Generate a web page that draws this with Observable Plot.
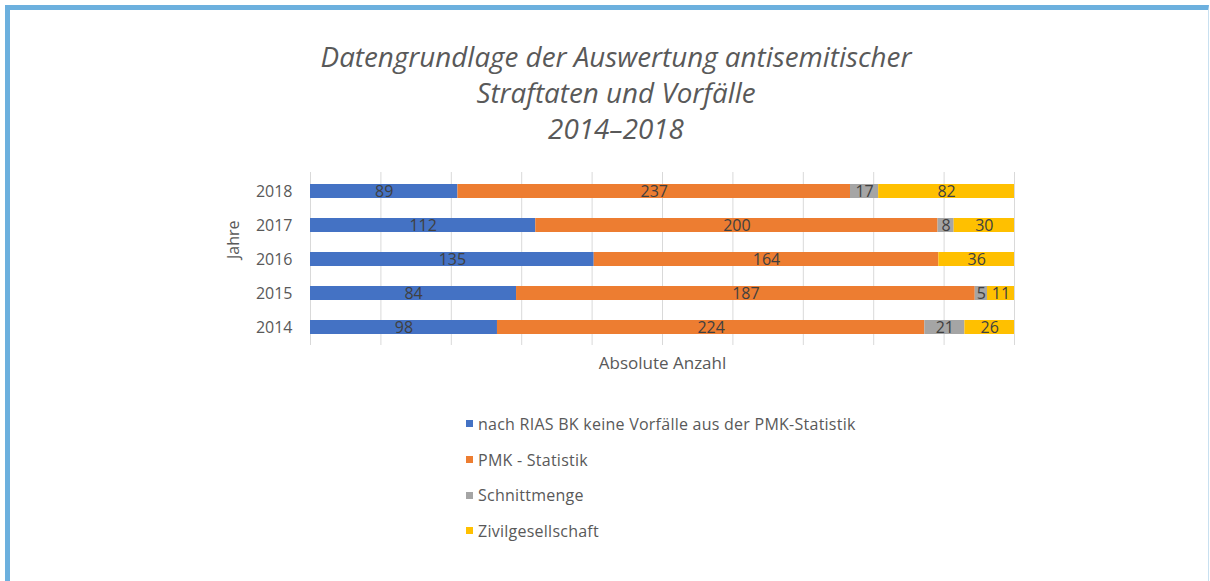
<!DOCTYPE html>
<html>
<head>
<meta charset="utf-8">
<script src="https://cdn.jsdelivr.net/npm/d3@7"></script>
<script src="https://cdn.jsdelivr.net/npm/@observablehq/plot@0.6"></script>
<style>
  html, body { margin: 0; padding: 0; background: #fff; width: 1210px; height: 581px; overflow: hidden; }
  #frame { position: absolute; left: 5px; top: 5px; width: 1204px; height: 640px; box-sizing: border-box;
           border-left: 5px solid #6cb0de; border-top: 5px solid #6cb0de; border-right: 1px solid #c8e0f0; }
  #chart { position: absolute; left: 0; top: 0; }
  #title { position: absolute; left: 0; top: 38px; width: 1232px; text-align: center;
           font-family: "Open Sans", sans-serif; font-style: italic; font-size: 27.8px; line-height: 36px; color: #595959; }
  #legend { position: absolute; left: 466px; top: 406px; font-family: "Open Sans", sans-serif; font-size: 16px; letter-spacing: 0.25px; color: #595959; }
  .row { height: 35.7px; display: flex; align-items: center; }
  .sw { width: 7px; height: 7px; margin-right: 5px; flex: none; }
</style>
</head>
<body>
<div id="frame"></div>
<div id="chart"></div>
<div id="title"></div>
<div id="legend"></div>
<script>
const titleLines = ["Datengrundlage der Auswertung antisemitischer", "Straftaten und Vorfälle", "2014–2018"];
const years = ["2018", "2017", "2016", "2015", "2014"];
const series = ["nach RIAS BK keine Vorfälle aus der PMK-Statistik", "PMK - Statistik", "Schnittmenge", "Zivilgesellschaft"];
const colors = ["#4472c4", "#ed7d31", "#a5a5a5", "#ffc000"];
const riasOnly = [89, 112, 135, 84, 98];
const pmk = [237, 200, 164, 187, 224];
const schnitt = [17, 8, 0, 5, 21];
const zivil = [82, 30, 36, 11, 26];
const xLabel = "Absolute Anzahl";
const yLabel = "Jahre";

const valuesBySeries = [riasOnly, pmk, schnitt, zivil];
const rows = [];
series.forEach((s, si) => years.forEach((y, yi) => rows.push({year: y, series: s, value: valuesBySeries[si][yi]})));

document.getElementById("title").innerHTML = titleLines.map(t => `<div>${t}</div>`).join("");
document.getElementById("legend").innerHTML = series.map((s, i) =>
  `<div class="row"><span class="sw" style="background:${colors[i]}"></span><span>${s}</span></div>`).join("");

const stackOpts = {x: "value", y: "year", z: "series", offset: "normalize", order: series};

const chart = Plot.plot({
  width: 1210,
  height: 400,
  marginLeft: 310,
  marginRight: 196,
  marginTop: 172,
  marginBottom: 55,
  style: {fontFamily: "Open Sans, sans-serif", fontSize: "16px", color: "#595959", background: "transparent", overflow: "visible"},
  x: {domain: [0, 1], axis: null},
  y: {domain: years, paddingInner: 0.6, paddingOuter: 0.3, axis: null},
  color: {domain: series, range: colors},
  marks: [
    Plot.gridX({ticks: 10, stroke: "#d9d9d9", strokeOpacity: 1, strokeWidth: 1}),
    Plot.barX(rows, Plot.stackX({...stackOpts, fill: "series"})),
    Plot.text(rows, Plot.stackX({...stackOpts, text: d => d.value > 0 ? String(d.value) : "", fill: "#404040", fontSize: 16})),
    Plot.axisY({tickSize: 0, tickPadding: 18, label: null, fill: "#595959", fontSize: 16}),
    Plot.text([yLabel], {frameAnchor: "left", dx: -77, rotate: -90, fill: "#595959", fontSize: 16}),
    Plot.text([xLabel], {frameAnchor: "bottom", dy: 23, fill: "#595959", fontSize: 17, letterSpacing: "0.6px"})
  ]
});
document.getElementById("chart").appendChild(chart);
</script>
</body>
</html>
